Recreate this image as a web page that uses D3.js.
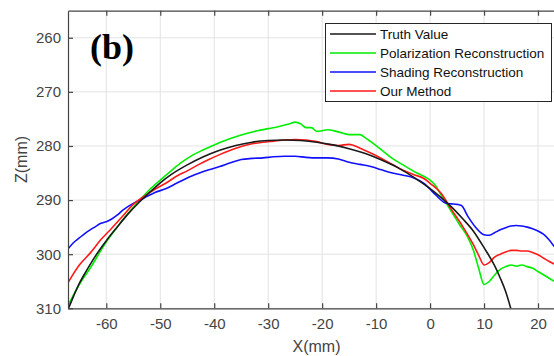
<!DOCTYPE html>
<html>
<head>
<meta charset="utf-8">
<script src="https://cdn.jsdelivr.net/npm/d3@7"></script>
<style>
  body { margin: 0; background: #fff; }
  svg { display: block; }
  text { font-family: "Liberation Sans", Arial, sans-serif; }
</style>
</head>
<body>
<svg width="554" height="356"></svg>
<script>
var xTicks = [-60, -50, -40, -30, -20, -10, 0, 10, 20];
var zTicks = [260, 270, 280, 290, 300, 310];

var truthX = [-67, -66, -65, -64, -62, -60, -58, -56, -54, -52, -50, -48, -45, -42, -39, -36, -33, -30, -27, -24, -21, -18, -15, -12, -9, -6, -3, 0, 2, 4, 6, 8, 10, 12, 13, 14, 15];
var truthZ = [310, 307.6, 305.4, 303.6, 300.3, 297.5, 295.0, 292.6, 290.5, 288.6, 286.8, 285.3, 283.5, 282.0, 280.8, 279.9, 279.3, 279.0, 278.9, 279.0, 279.3, 279.8, 280.5, 281.4, 282.6, 284.0, 285.8, 287.9, 289.5, 291.3, 293.4, 295.7, 298.8, 302.2, 304.4, 306.9, 310.2];

var polarX = [-67, -65, -63, -60, -58, -56, -54, -52, -50, -48, -46, -44, -42, -40, -38, -36, -34, -32, -30, -28, -26, -25, -24, -23, -22, -21, -20, -19, -17, -15, -13, -12, -11, -9, -7, -5, -3, -1, 0, 1, 2, 3, 4, 5.5, 7, 8, 9, 10, 11, 12, 13, 14, 15, 16, 17, 18, 19, 20, 21, 22, 23];
var polarZ = [309.3, 305.6, 302.6, 297.7, 295.0, 292.5, 290.2, 288.1, 286.3, 284.6, 283.0, 281.7, 280.7, 279.8, 279.0, 278.3, 277.7, 277.2, 276.8, 276.4, 275.9, 275.6, 275.9, 276.6, 276.6, 277.3, 277.2, 277.0, 277.4, 277.9, 277.9, 278.5, 279.2, 280.7, 282.3, 283.5, 284.7, 285.7, 286.3, 287.3, 289.0, 290.6, 292.2, 294.6, 296.9, 299.2, 302.6, 305.6, 305.0, 303.8, 302.8, 302.3, 302.0, 302.2, 302.0, 302.3, 302.6, 303.2, 303.8, 304.4, 305.0];

var shadeX = [-67, -66, -65, -64, -63, -62, -61, -60, -59, -58, -57, -56, -55, -53, -51, -49, -47, -45, -43, -41, -39, -37, -35, -33, -31, -29, -27, -25, -23, -21, -19, -17, -15, -13, -11, -9, -7, -5, -3, -1, 0, 1, 3, 4, 5, 5.8, 7, 8.5, 10, 11, 12, 13, 14, 15, 16, 17, 18, 19, 20, 21, 22, 23];
var shadeZ = [298.9, 297.8, 297.0, 296.2, 295.5, 294.9, 294.3, 294.0, 293.5, 292.8, 291.9, 291.2, 290.6, 289.6, 288.6, 287.9, 286.9, 285.9, 285.1, 284.4, 283.8, 283.1, 282.5, 282.3, 282.2, 282.0, 281.9, 281.9, 282.1, 282.2, 282.2, 282.4, 283.0, 283.4, 283.8, 284.4, 285.0, 285.4, 285.9, 287.0, 288.0, 289.0, 290.6, 290.7, 290.8, 291.0, 293.0, 295.1, 296.4, 296.5, 296.0, 295.5, 295.1, 294.8, 294.7, 294.8, 295.0, 295.3, 295.7, 296.3, 297.3, 298.6];

var oursX = [-67, -65, -63, -61, -59, -57, -55, -53, -51, -49, -47, -45, -43, -41, -39, -37, -35, -33, -31, -29, -27, -25, -23, -21, -19, -17, -15, -13, -11, -9, -7, -5, -3, -1, 0, 2, 4, 6, 8, 9, 10, 11, 12, 13, 14, 15, 16, 17, 18, 19, 20, 21, 22, 23];
var oursZ = [305.1, 302.0, 299.8, 297.3, 295.2, 293.0, 290.8, 289.3, 288.0, 286.9, 285.6, 284.6, 283.5, 282.5, 281.6, 280.8, 280.1, 279.6, 279.3, 279.1, 278.9, 278.8, 278.9, 279.2, 279.7, 279.9, 279.7, 280.4, 281.3, 282.3, 283.4, 284.5, 285.3, 286.1, 286.9, 288.7, 291.8, 294.8, 298.2, 300.2, 302.0, 301.5, 300.5, 300.0, 299.6, 299.3, 299.3, 299.4, 299.4, 299.7, 300.1, 300.7, 301.3, 301.8];

var seriesNames = ["Truth Value", "Polarization Reconstruction", "Shading Reconstruction", "Our Method"];
var seriesColors = ["#1a1a1a", "#00ee00", "#1010ff", "#ff1a1a"];

var svg = d3.select("svg");
var plotLeft = 68, plotRight = 565, plotTop = 10.7, plotBottom = 308.3;

var x = d3.scaleLinear().domain([-67.1, 25]).range([plotLeft, plotRight]);
var y = d3.scaleLinear().domain([255, 310]).range([plotTop, plotBottom]);

// grid
var grid = svg.append("g").attr("stroke", "#e3e3e3").attr("stroke-width", 1);
xTicks.forEach(function(t) {
  grid.append("line").attr("x1", x(t)).attr("x2", x(t)).attr("y1", plotTop).attr("y2", plotBottom);
});
zTicks.forEach(function(t) {
  grid.append("line").attr("x1", plotLeft).attr("x2", plotRight).attr("y1", y(t)).attr("y2", y(t));
});

svg.append("clipPath").attr("id", "plot")
  .append("rect").attr("x", plotLeft).attr("y", plotTop)
  .attr("width", plotRight - plotLeft).attr("height", plotBottom - plotTop);

var line = d3.line()
  .x(function(d) { return x(d[0]); })
  .y(function(d) { return y(d[1]); })
  .curve(d3.curveMonotoneX);

var data = [
  d3.zip(truthX, truthZ),
  d3.zip(polarX, polarZ),
  d3.zip(shadeX, shadeZ),
  d3.zip(oursX, oursZ)
];

// draw order: green, blue, red, black on top
[1, 2, 3, 0].forEach(function(i) {
  svg.append("path")
    .attr("clip-path", "url(#plot)")
    .attr("d", line(data[i]))
    .attr("fill", "none")
    .attr("stroke", seriesColors[i])
    .attr("stroke-width", 1.6)
    .attr("stroke-linejoin", "round");
});

// axes (ticks inside, MATLAB style), plain hyphen minus
var fmt = function(d) { return String(d); };
var axisColor = "#444";
var xAxis = svg.append("g").attr("transform", "translate(0," + plotBottom + ")")
  .call(d3.axisBottom(x).tickValues(xTicks).tickFormat(fmt).tickSizeInner(-5).tickSizeOuter(0).tickPadding(10));
var xTop = svg.append("g").attr("transform", "translate(0," + plotTop + ")")
  .call(d3.axisTop(x).tickValues(xTicks).tickSizeInner(-5).tickSizeOuter(0).tickFormat(""));
var yAxis = svg.append("g").attr("transform", "translate(" + plotLeft + ",0)")
  .call(d3.axisLeft(y).tickValues(zTicks).tickFormat(fmt).tickSizeInner(-5).tickSizeOuter(0).tickPadding(7));

[xAxis, xTop, yAxis].forEach(function(a) {
  a.select(".domain").attr("stroke", axisColor).attr("stroke-width", 1.2);
  a.selectAll(".tick line").attr("stroke", axisColor).attr("stroke-width", 1.2);
  a.selectAll(".tick text").attr("fill", "#444").style("font-size", "15px")
    .style("font-family", "'Liberation Sans', Arial, sans-serif");
});

svg.append("text")
  .attr("x", 316.5).attr("y", 352)
  .attr("text-anchor", "middle")
  .attr("fill", "#444")
  .style("font-size", "16px")
  .text("X(mm)");

svg.append("text")
  .attr("transform", "translate(27," + ((plotTop + plotBottom) / 2) + ") rotate(-90)")
  .attr("text-anchor", "middle")
  .attr("fill", "#444")
  .style("font-size", "16px")
  .text("Z(mm)");

svg.append("text")
  .attr("x", 90).attr("y", 59)
  .style("font-family", "'Liberation Serif', 'Times New Roman', serif")
  .style("font-weight", "bold")
  .style("font-size", "36px")
  .attr("fill", "#000")
  .text("(b)");

// legend
var legend = svg.append("g");
legend.append("rect")
  .attr("x", 325.5).attr("y", 23.5).attr("width", 226).attr("height", 78)
  .attr("fill", "#fff").attr("stroke", "#262626").attr("stroke-width", 1);

seriesNames.forEach(function(name, i) {
  var cy = 34 + i * 19;
  legend.append("line")
    .attr("x1", 330).attr("x2", 376).attr("y1", cy).attr("y2", cy)
    .attr("stroke", seriesColors[i]).attr("stroke-width", 1.6);
  legend.append("text")
    .attr("x", 380).attr("y", cy + 4.8)
    .attr("fill", "#111")
    .style("font-size", "13.5px")
    .text(name);
});
</script>
</body>
</html>
